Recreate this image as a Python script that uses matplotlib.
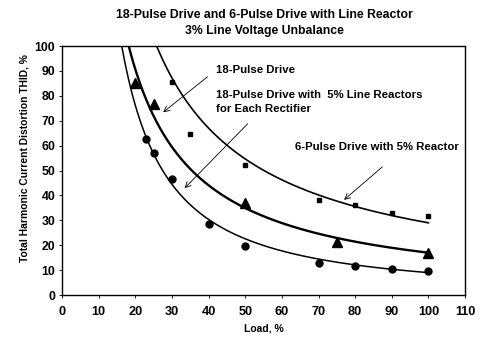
import numpy as np
import matplotlib
matplotlib.use("Agg")
import matplotlib.pyplot as plt

plt.rcParams['font.family'] = ['Liberation Sans', 'DejaVu Sans']
plt.rcParams['font.weight'] = 'bold'

# 18-pulse drive (circles)
load_18p = [23, 25, 30, 40, 50, 70, 80, 90, 100]
thid_18p = [62.5, 57, 46.5, 28.6, 19.5, 13, 11.8, 10.4, 9.5]
# 18-pulse drive with 5% line reactors (triangles)
load_18r = [20, 25, 50, 75, 100]
thid_18r = [85.3, 76.7, 36.8, 21.4, 17]
# 6-pulse drive with 5% reactor (squares)
load_6p = [30, 35, 50, 70, 80, 90, 100]
thid_6p = [85.7, 64.7, 52.3, 38.1, 36, 32.8, 31.8]

# power trendlines y = a * x^b (as drawn in the reference)
trend_18p = (4056.0, -1.327)
trend_18r = (2043.0, -1.04)
trend_6p = (1952.0, -0.914)

xticks = list(range(0, 111, 10))
yticks = list(range(0, 101, 10))

fig = plt.figure(figsize=(4.89, 3.44), dpi=100)
ax = fig.add_axes([0.127, 0.1424, 0.824, 0.7236])

xs = np.linspace(8, 100, 400)
for (a, b), lw in [(trend_18p, 1.1), (trend_18r, 1.7), (trend_6p, 1.2)]:
    ax.plot(xs, a * xs ** b, color='black', lw=lw)

ax.plot(load_18p, thid_18p, 'o', color='black', ms=5, ls='none')
ax.plot(load_18r, thid_18r, '^', color='black', ms=7, ls='none')
ax.plot(load_6p, thid_6p, 's', color='black', ms=3.5, ls='none')

ax.set_xlim(0, 110)
ax.set_ylim(0, 100)
ax.set_xticks(xticks)
ax.set_yticks(yticks)
ax.tick_params(axis='x', labelsize=9.2, length=2, width=0.6, pad=6)
ax.tick_params(axis='y', labelsize=8.8, length=2, width=0.6, pad=3)
for lab in ax.get_xticklabels() + ax.get_yticklabels():
    lab.set_fontweight('bold')
for s in ax.spines.values():
    s.set_linewidth(1.0)

ax.set_xlabel('Load, %', fontsize=7.5, fontweight='bold', labelpad=4)
ax.set_ylabel('Total Harmonic Current Distortion THID, %', fontsize=7.4, fontweight='bold', labelpad=4)
ax.yaxis.set_label_coords(-0.082, 0.55)
fig.text(0.54, 0.955, '18-Pulse Drive and 6-Pulse Drive with Line Reactor',
         fontsize=8.8, fontweight='bold', ha='center', va='center')
fig.text(0.54, 0.91, '3% Line Voltage Unbalance',
         fontsize=8.8, fontweight='bold', ha='center', va='center')

arrow = dict(arrowstyle='->', color='black', lw=0.6)
ax.text(41.9, 90.5, '18-Pulse Drive', fontsize=8.2, fontweight='bold', ha='left', va='center')
ax.annotate('', xy=(27.0, 72.7), xytext=(40.3, 88.4), arrowprops=arrow)
ax.text(41.9, 77.5, '18-Pulse Drive with  5% Line Reactors\nfor Each Rectifier',
        fontsize=8.2, fontweight='bold', ha='left', va='center', linespacing=1.45)
ax.annotate('', xy=(32.9, 42.1), xytext=(51.2, 69.6), arrowprops=arrow)
ax.text(63.5, 59.4, '6-Pulse Drive with 5% Reactor',
        fontsize=8.2, fontweight='bold', ha='left', va='center')
ax.annotate('', xy=(76.4, 37.5), xytext=(88.0, 52.2), arrowprops=arrow)

fig.savefig('out.png', dpi=100)
